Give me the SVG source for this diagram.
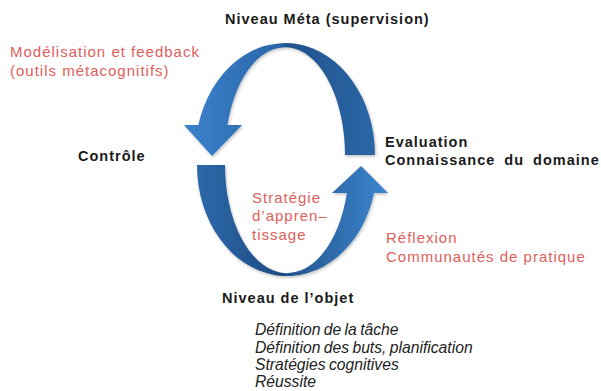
<svg xmlns="http://www.w3.org/2000/svg" width="601" height="391" viewBox="0 0 601 391">
<defs>
<style>
.b{font-family:"Liberation Sans",Arial,sans-serif;font-weight:bold;font-size:14.5px;letter-spacing:1px;fill:#1a1a1a}
.r{font-family:"Liberation Sans",Arial,sans-serif;font-size:15px;letter-spacing:1px;fill:#de605b}
.i{font-family:"Liberation Sans",Arial,sans-serif;font-style:italic;font-size:15.7px;word-spacing:-1px;fill:#222}
</style>
<linearGradient id="gTop" gradientUnits="userSpaceOnUse" x1="184" y1="0" x2="375" y2="0">
<stop offset="0" stop-color="#3b82cc"/>
<stop offset="0.5" stop-color="#2b66a8"/>
<stop offset="0.54" stop-color="#21528b"/>
<stop offset="1" stop-color="#2b66a6"/>
</linearGradient>
<linearGradient id="gBot" gradientUnits="userSpaceOnUse" x1="197" y1="0" x2="388" y2="0">
<stop offset="0" stop-color="#2c68aa"/>
<stop offset="0.45" stop-color="#1f4c82"/>
<stop offset="0.5" stop-color="#24578f"/>
<stop offset="1" stop-color="#3c86d0"/>
</linearGradient>
<filter id="sh" x="-10%" y="-10%" width="120%" height="120%">
<feDropShadow dx="1" dy="1.5" stdDeviation="1.5" flood-color="#000" flood-opacity="0.25"/>
</filter>
</defs>
<rect width="601" height="391" fill="#fff"/>
<g id="connectors" filter="url(#sh)">
<path id="arrow-top" fill="url(#gTop)" d="M375 155 A90 112 0 0 0 198.3 125 L184 125 L212 156 L242 125 L227.4 125 A60 108 0 0 1 345 155 Z"/>
<path id="arrow-bottom" fill="url(#gBot)" d="M197 165 A90 111 0 0 0 374.1 193 L388 193 L361 166 L332 193 L346.9 193 A62 108 0 0 1 225 165 Z"/>
</g>
<g id="meta"><text class="b" x="225" y="24">Niveau Méta (supervision)</text></g>
<g id="modelisation"><text class="r" x="10" y="57">Modélisation et feedback</text><text class="r" x="10" y="76">(outils métacognitifs)</text></g>
<g id="controle"><text class="b" x="78" y="161">Contrôle</text></g>
<g id="evaluation"><text class="b" x="385" y="147">Evaluation</text><text class="b" x="385" y="165" word-spacing="4">Connaissance du domaine</text></g>
<g id="strategie"><text class="r" x="252" y="203">Stratégie</text><text class="r" x="252" y="221">d’appren–</text><text class="r" x="252" y="240">tissage</text></g>
<g id="reflexion"><text class="r" x="386" y="243">Réflexion</text><text class="r" x="386" y="262">Communautés de pratique</text></g>
<g id="objet"><text class="b" x="222" y="303">Niveau de l’objet</text></g>
<g id="liste">
<text class="i" x="255" y="335">Définition de la tâche</text>
<text class="i" x="255" y="353">Définition des buts, planification</text>
<text class="i" x="255" y="370">Stratégies cognitives</text>
<text class="i" x="255" y="387">Réussite</text>
</g>
</svg>
